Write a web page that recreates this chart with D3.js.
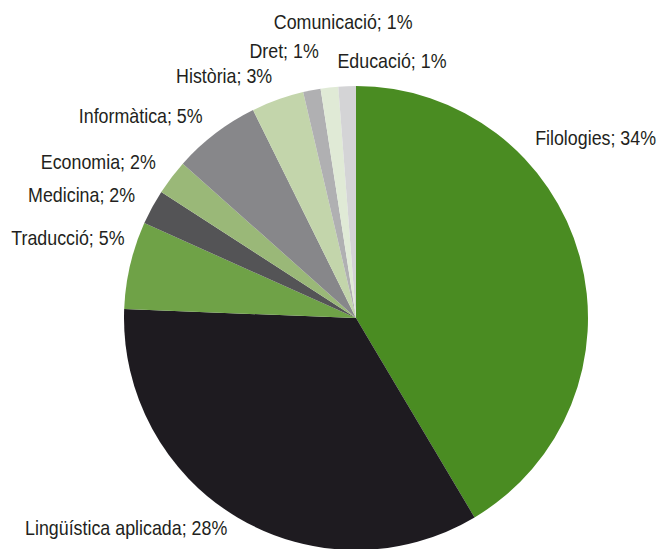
<!DOCTYPE html>
<head>
    <meta charset="utf-8">
    <script src="https://d3js.org/d3.v7.min.js"></script>
    <style>
        body { margin: 0; background: white; }
        .chart text {
            fill: #231f20;
            font: 21px "Liberation Sans", Arial, sans-serif;
        }
    </style>
</head>
<body>
    <svg class="chart" width="660" height="549"></svg>
</body>
<script>
    var categories = ["Filologies", "Lingüística aplicada", "Traducció", "Medicina", "Economia",
        "Informàtica", "Història", "Dret", "Comunicació", "Educació"]
    var percents = [34, 28, 5, 2, 2, 5, 3, 1, 1, 1]
    var colors = ["#4a8c22", "#1e1b20", "#6fa247", "#545456", "#9ab878",
        "#87878a", "#c3d5ab", "#b0b0b2", "#e0ead6", "#d4d4d6"]

    // nudges for the label boxes, relative to a point just outside each slice
    var labelNudge = [[-60, -107], [-2, 4], [10, -16], [-3, 2], [-3, 1],
        [-3, 2], [0, -2], [10, -17], [85, -43], [100, -2]]

    var svg = d3.select("svg")
    var cx = 356, cy = 318, r = 232

    var pie = d3.pie().sort(null).value(d => d)
    var arcs = pie(percents)
    var arc = d3.arc().innerRadius(0).outerRadius(r)

    var g = svg.append("g").attr("transform", "translate(" + cx + "," + cy + ")")

    g.selectAll("path")
        .data(arcs)
        .enter().append("path")
        .attr("d", arc)
        .attr("fill", (d, i) => colors[i])

    // the original font is a condensed grotesque, so squeeze a regular one
    var lr = r + 16
    g.selectAll("text")
        .data(arcs)
        .enter().append("text")
        .attr("transform", (d, i) => {
            var a = (d.startAngle + d.endAngle) / 2
            var x = lr * Math.sin(a) + labelNudge[i][0]
            var y = -lr * Math.cos(a) + labelNudge[i][1]
            return "translate(" + x + "," + y + ") scale(0.85,1)"
        })
        .attr("text-anchor", d => (d.startAngle + d.endAngle) / 2 < Math.PI ? "start" : "end")
        .text((d, i) => categories[i] + "; " + percents[i] + "%")
</script>
